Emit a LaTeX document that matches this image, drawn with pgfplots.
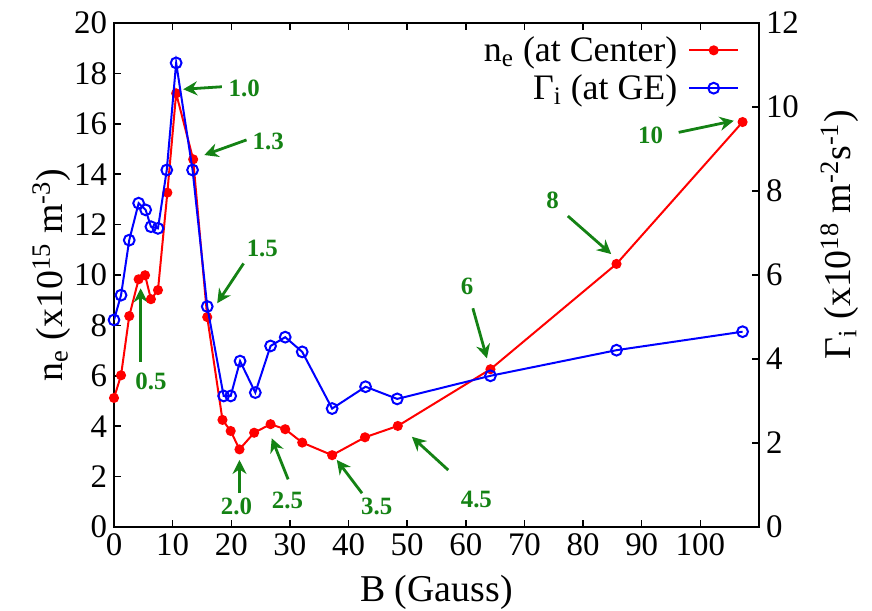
\documentclass[border=0pt]{standalone}
\usepackage{pgfplots}
\pgfplotsset{compat=1.18}
\usepackage{fontspec}
\setmainfont{Liberation Serif}
\usetikzlibrary{arrows.meta}
\definecolor{dgreen}{RGB}{20,130,20}
\begin{document}
\begin{tikzpicture}
\pgfplotsset{
  every axis/.append style={
    width=322.5bp, height=252bp, scale only axis,
    xmin=0, xmax=110,
    tick align=inside, major tick length=3.5bp,
    axis line style={line width=0.75bp}, every tick/.style={line width=0.75bp, black},
    tick label style={font=\fontsize{16.5}{18}\selectfont},
    label style={font=\fontsize{19}{21}\selectfont},
    /pgf/number format/assume math mode=true,
  },
}
\begin{axis}[name=ax,
  ymin=0, ymax=20,
  xtick={0,10,...,100}, ytick={0,2,...,20},
  xtick pos=both, ytick pos=left,
  xlabel={B (Gauss)},
  ylabel={n\textsubscript{e} (x10\textsuperscript{15} m\textsuperscript{-3})},
  xlabel style={anchor=center, at={(axis description cs:0.5,-0.13)}},
  ylabel style={anchor=center, at={(axis description cs:-0.097,0.5)}},
]
\addplot[red, line width=1bp, mark=*, mark size=2bp] coordinates {
(0,5.12) (1.2,6.02) (2.6,8.37) (4.2,9.83) (5.3,9.99) (6.3,9.04) (7.5,9.40)
(9.1,13.27) (10.6,17.21) (13.5,14.59) (15.9,8.33) (18.5,4.25) (19.9,3.81)
(21.4,3.08) (23.9,3.74) (26.7,4.08) (29.2,3.88) (32.1,3.35) (37.2,2.85)
(42.8,3.56) (48.4,4.01) (64.2,6.26) (85.7,10.44) (107.2,16.07)
};
\tikzset{garrow/.style={dgreen, line width=1.4bp, -{Stealth[length=7bp,width=7bp]}},
         glab/.style={dgreen, font=\fontsize{12.5}{14}\selectfont\bfseries}}
\draw[garrow] (axis cs:4.55,6.56) -- (axis cs:4.55,9.47);
\node[glab] at (axis cs:6.3,5.79) {0.5};
\draw[garrow] (axis cs:18.4,17.47) -- (axis cs:11.8,17.37);
\node[glab] at (axis cs:22.2,17.41) {1.0};
\draw[garrow] (axis cs:22.6,15.36) -- (axis cs:15.4,14.76);
\node[glab] at (axis cs:26.3,15.29) {1.3};
\draw[garrow] (axis cs:22.1,10.46) -- (axis cs:17.6,8.88);
\node[glab] at (axis cs:25.3,11.06) {1.5};
\draw[garrow] (axis cs:21.4,1.34) -- (axis cs:21.4,2.66);
\node[glab] at (axis cs:20.9,0.81) {2.0};
\draw[garrow] (axis cs:29.7,1.89) -- (axis cs:26.9,3.52);
\node[glab] at (axis cs:29.6,1.07) {2.5};
\draw[garrow] (axis cs:42.3,1.34) -- (axis cs:38.0,2.66);
\node[glab] at (axis cs:44.8,0.81) {3.5};
\draw[garrow] (axis cs:57.0,2.26) -- (axis cs:50.8,3.58);
\node[glab] at (axis cs:61.8,1.11) {4.5};
\draw[garrow] (axis cs:61.2,8.68) -- (axis cs:63.6,6.69);
\node[glab] at (axis cs:60.2,9.54) {6};
\draw[garrow] (axis cs:77.4,12.34) -- (axis cs:84.8,10.83);
\node[glab] at (axis cs:74.8,12.98) {8};
\draw[garrow] (axis cs:96.3,15.66) -- (axis cs:105.7,16.12);
\node[glab] at (axis cs:91.5,15.56) {10};
\end{axis}
\begin{axis}[
  ymin=0, ymax=12,
  ytick={0,2,...,12},
  axis y line*=right, hide x axis,
  ytick pos=right,
  ylabel={Γ\textsubscript{i} (x10\textsuperscript{18} m\textsuperscript{-2}s\textsuperscript{-1})},
  ylabel style={anchor=center, at={(axis description cs:1.125,0.58)}},
  legend style={draw=none, fill=none, at={(axis description cs:0.979,0.99)}, anchor=north east,
     font=\fontsize{18}{20}\selectfont, row sep=1bp},
  legend cell align=right, legend plot pos=right,
  legend image code/.code={\draw[mark repeat=2,mark phase=2,#1] plot coordinates {(0cm,0cm) (0.43cm,0cm) (0.86cm,0cm)};},
]
\addlegendimage{red, line width=1bp, mark=*, mark size=2bp}
\addlegendentry{n\textsubscript{e} (at Center)\hspace*{3.5bp}}
\addplot[blue, line width=1bp, mark=o, mark size=2.7bp, mark options={line width=1bp}] coordinates {
(0,4.93) (1.2,5.52) (2.6,6.83) (4.2,7.71) (5.4,7.55) (6.3,7.15) (7.5,7.11)
(9.0,8.50) (10.6,11.05) (13.4,8.50) (15.9,5.25) (18.7,3.12) (19.9,3.12)
(21.5,3.95) (24.1,3.20) (26.7,4.31) (29.2,4.52) (32.1,4.17) (37.2,2.82)
(42.9,3.34) (48.3,3.05) (64.2,3.60) (85.7,4.21) (107.2,4.65)
};
\addlegendentry{Γ\textsubscript{i} (at GE)\hspace*{3.5bp}}
\end{axis}
\pgfresetboundingbox
\path (ax.south west) ++(-57bp,-42bp) rectangle ([shift={(56.5bp,11.5bp)}]ax.north east);
\end{tikzpicture}
\end{document}
